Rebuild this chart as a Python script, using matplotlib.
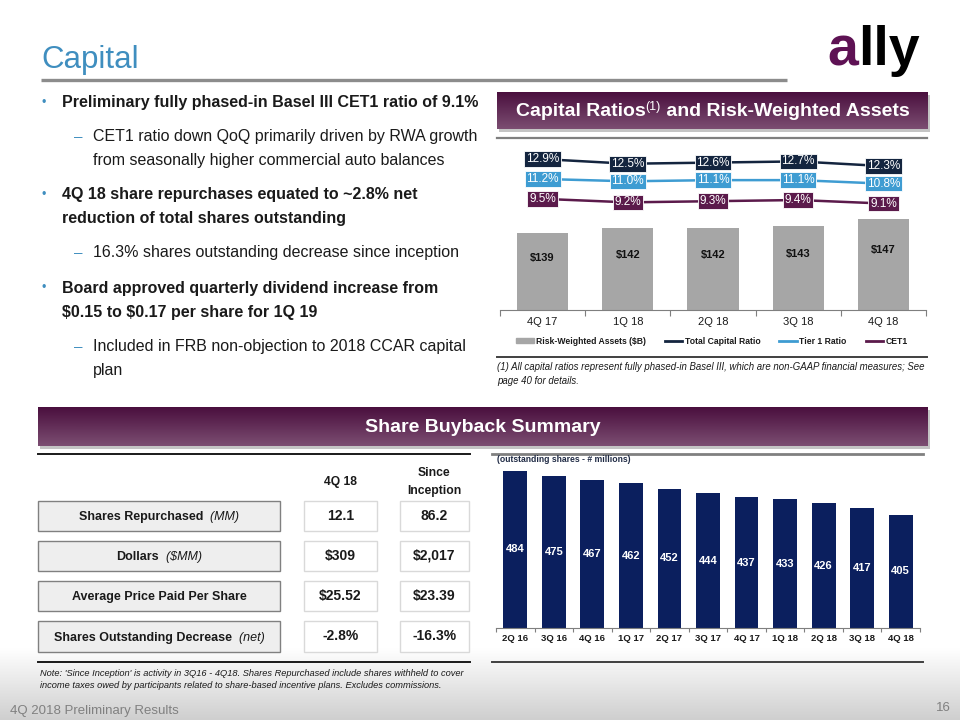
import matplotlib
matplotlib.use('Agg')
import matplotlib.pyplot as plt
import numpy as np
from matplotlib.patches import Rectangle, Patch
from matplotlib.lines import Line2D
from matplotlib.colors import LinearSegmentedColormap

plt.rcParams['font.family'] = ['Liberation Sans', 'DejaVu Sans']
plt.rcParams['text.parse_math'] = False

W, H = 960, 720

# ---------------- data ----------------
rwa_quarters = ['4Q 17', '1Q 18', '2Q 18', '3Q 18', '4Q 18']
rwa_values = [139, 142, 142, 143, 147]
total_capital_ratio = [12.9, 12.5, 12.6, 12.7, 12.3]
tier1_ratio = [11.2, 11.0, 11.1, 11.1, 10.8]
cet1_ratio = [9.5, 9.2, 9.3, 9.4, 9.1]

share_quarters = ['2Q 16', '3Q 16', '4Q 16', '1Q 17', '2Q 17', '3Q 17',
                  '4Q 17', '1Q 18', '2Q 18', '3Q 18', '4Q 18']
shares_outstanding = [484, 475, 467, 462, 452, 444, 437, 433, 426, 417, 405]

table_labels = ['Shares Repurchased', 'Dollars', 'Average Price Paid Per Share',
                'Shares Outstanding Decrease']
table_units = ['(MM)', '($MM)', '', '(net)']
table_4q18 = ['12.1', '$309', '$25.52', '-2.8%']
table_inception = ['86.2', '$2,017', '$23.39', '-16.3%']

bullets = [
    ('b', 'Preliminary fully phased-in Basel III CET1 ratio of 9.1%'),
    ('d', 'CET1 ratio down QoQ primarily driven by RWA growth'),
    ('c', 'from seasonally higher commercial auto balances'),
    ('b', '4Q 18 share repurchases equated to ~2.8% net'),
    ('bc', 'reduction of total shares outstanding'),
    ('d', '16.3% shares outstanding decrease since inception'),
    ('b', 'Board approved quarterly dividend increase from'),
    ('bc', '$0.15 to $0.17 per share for 1Q 19'),
    ('d', 'Included in FRB non-objection to 2018 CCAR capital'),
    ('c', 'plan'),
]
bullet_y = [103, 137, 160, 195, 218, 253, 288, 312, 347, 370]

# ---------------- colours ----------------
C_TOTAL = '#14253F'
C_TIER1 = '#3E9CD2'
C_CET1 = '#5B1A4B'
C_RWA = '#A6A6A6'
C_SHARES = '#0B1F5E'
C_BLUE = '#3F8EBF'
TXT = '#1a1a1a'

fig = plt.figure(figsize=(9.6, 7.2), dpi=100)
bg = fig.add_axes([0, 0, 1, 1])
bg.axis('off')
renderer = fig.canvas.get_renderer()

grad = np.linspace(0, 1, 200).reshape(-1, 1)
foot_cmap = LinearSegmentedColormap.from_list('f', ['#ffffff', '#cfcfcf'])
purple_cmap = LinearSegmentedColormap.from_list('p', ['#4A0F3E', '#7C4E72'])

# footer gradient
bg.imshow(grad, extent=[0, W, 720, 648], cmap=foot_cmap, aspect='auto', zorder=0)


def header(x0, x1, y0, y1):
    bg.add_patch(Rectangle((x0 + 2, y0 + 3), x1 - x0, y1 - y0, fc='#c4c4c4',
                           ec='none', zorder=1))
    bg.imshow(grad, extent=[x0, x1, y1, y0], cmap=purple_cmap, aspect='auto', zorder=2)


def rich(cx, y, pieces, ha='center', zorder=5):
    objs, widths = [], []
    for s, kw, dy in pieces:
        t = bg.text(0, y + dy, s, ha='left', va='baseline', zorder=zorder, **kw)
        objs.append(t)
        widths.append(t.get_window_extent(renderer).width)
    total = sum(widths)
    x = cx - total / 2 if ha == 'center' else cx
    for t, w in zip(objs, widths):
        t.set_x(x)
        x += w
    return objs


header(497, 928, 92, 129)
header(38, 928, 407, 446)

bg.set_xlim(0, W)
bg.set_ylim(H, 0)

# title
bg.text(41, 68, 'Capital', fontsize=22.5, color=C_BLUE, va='baseline', ha='left')
bg.plot([41, 787], [80, 80], color='#8c8c8c', lw=2.4, solid_capstyle='butt')

# logo
rich(827, 65, [('a', dict(fontsize=40, weight='bold', color='#5E1254'), 0),
               ('lly', dict(fontsize=40, weight='bold', color='#000000'), 0)], ha='left')

# bullets
for (kind, s), y in zip(bullets, bullet_y):
    if kind in ('b', 'bc'):
        if kind == 'b':
            bg.text(41, y, '•', fontsize=9, color=C_BLUE, va='center', ha='left')
        bg.text(62, y, s, fontsize=11.5, weight='bold', color=TXT, va='center', ha='left')
    else:
        if kind == 'd':
            bg.text(74, y, '–', fontsize=11, color=C_BLUE, va='center', ha='left')
        bg.text(93, y, s, fontsize=11.5, color=TXT, va='center', ha='left')

# header texts
rich(712.5, 116, [('Capital Ratios', dict(fontsize=14, weight='bold', color='white'), 0),
                  ('(1)', dict(fontsize=9, color='white'), -6),
                  (' and Risk-Weighted Assets', dict(fontsize=14, weight='bold', color='white'), 0)])
rich(483, 432.5, [('Share Buyback Summary', dict(fontsize=14, weight='bold', color='white'), 0)])

# separator lines
bg.plot([497, 927], [138, 138], color='#7f7f7f', lw=1.6)
bg.plot([497, 927], [357, 357], color='#404040', lw=1.4)
bg.plot([38, 470], [454, 454], color='#1a1a1a', lw=1.4)
bg.plot([492, 923], [454, 454], color='#808080', lw=2)
bg.plot([38, 470], [662, 662], color='#1a1a1a', lw=1.4)
bg.plot([492, 923], [662, 662], color='#404040', lw=1.4)

# footnote for capital chart
bg.text(497, 367, '(1) All capital ratios represent fully phased-in Basel III, which are non-GAAP '
        'financial measures; See', fontsize=6.95, style='italic', color=TXT, va='center')
bg.text(497, 381, 'page 40 for details.', fontsize=6.95, style='italic', color=TXT, va='center')

# table
bg.text(340, 482, '4Q 18', fontsize=8.7, weight='bold', color=TXT, ha='center', va='center')
bg.text(434, 473, 'Since', fontsize=8.7, weight='bold', color=TXT, ha='center', va='center')
bg.text(434, 491, 'Inception', fontsize=8.7, weight='bold', color=TXT, ha='center', va='center')
row_y = [(501, 531), (541, 571), (581, 611), (621, 652)]
for (y0, y1), lab, unit, v1, v2 in zip(row_y, table_labels, table_units, table_4q18, table_inception):
    bg.add_patch(Rectangle((38, y0), 242, y1 - y0, fc='#eeeeee', ec='#808080', lw=1, zorder=3))
    bg.add_patch(Rectangle((304, y0), 73, y1 - y0, fc='white', ec='#d9d9d9', lw=1, zorder=3))
    bg.add_patch(Rectangle((400, y0), 69, y1 - y0, fc='white', ec='#d9d9d9', lw=1, zorder=3))
    yc = (y0 + y1) / 2
    pieces = [(lab, dict(fontsize=9, weight='bold', color=TXT), 0)]
    if unit:
        pieces.append(('  ' + unit, dict(fontsize=9, style='italic', color=TXT), 0))
    rich(159, yc + 4.4, pieces)
    bg.text(340.5, yc, v1, fontsize=10, weight='bold', color=TXT, ha='center', va='center', zorder=5)
    bg.text(434.5, yc, v2, fontsize=10, weight='bold', color=TXT, ha='center', va='center', zorder=5)

bg.text(40, 673, "Note: 'Since Inception' is activity in 3Q16 - 4Q18. Shares Repurchased include "
        "shares withheld to cover", fontsize=6.7, style='italic', color=TXT, va='center')
bg.text(40, 686, 'income taxes owed by participants related to share-based incentive plans. '
        'Excludes commissions.', fontsize=6.7, style='italic', color=TXT, va='center')

# footer
bg.text(10, 711, '4Q 2018 Preliminary Results', fontsize=9.5, color='#808080', va='center')
bg.text(951, 708, '16', fontsize=9.5, color='#808080', va='center', ha='right')

# ---------------- capital ratio chart ----------------
ax1 = fig.add_axes([500 / W, 1 - 310 / H, 426 / W, 164 / H])
ax1.set_facecolor('none')
xr = np.arange(len(rwa_quarters))
ax1.bar(xr, rwa_values, width=0.6, color=C_RWA, zorder=2)
ylo = 95
ax1.set_ylim(ylo, ylo + 164 / 1.75)
ax1.set_xlim(-0.5, len(rwa_quarters) - 0.5)
for i, v in enumerate(rwa_values):
    ax1.text(i, (v + ylo) / 2 + 8, f'${v}', ha='center', va='center', fontsize=8,
             weight='bold', color='#111111', zorder=3)
for s in ['top', 'left', 'right']:
    ax1.spines[s].set_visible(False)
ax1.spines['bottom'].set_color('#7f7f7f')
ax1.set_yticks([])
ax1.set_xticks(np.arange(-0.5, len(rwa_quarters), 1))
ax1.set_xticklabels([])
ax1.set_xticks(xr, minor=True)
ax1.set_xticklabels(rwa_quarters, minor=True, fontsize=8, color=TXT)
ax1.tick_params(axis='x', which='major', length=4, color='#7f7f7f')
ax1.tick_params(axis='x', which='minor', length=0, pad=5)

ax2 = ax1.twinx()
ax2.set_ylim(0, 164 / 11.7)
ax2.set_xlim(-0.5, len(rwa_quarters) - 0.5)
ax2.axis('off')
for vals, col in [(total_capital_ratio, C_TOTAL), (tier1_ratio, C_TIER1), (cet1_ratio, C_CET1)]:
    ax2.plot(xr, vals, color=col, lw=1.8, zorder=3)
    for i, v in enumerate(vals):
        ax2.text(i, v, f'{v:.1f}%', ha='center', va='center', fontsize=8.5, color='white',
                 zorder=4, bbox=dict(boxstyle='square,pad=0.15', fc=col, ec='white', lw=0.6))

handles = [Patch(color=C_RWA), Line2D([], [], color=C_TOTAL, lw=2),
           Line2D([], [], color=C_TIER1, lw=2), Line2D([], [], color=C_CET1, lw=2)]
labels = ['Risk-Weighted Assets ($B)', 'Total Capital Ratio', 'Tier 1 Ratio', 'CET1']
fig.legend(handles, labels, loc='center', bbox_to_anchor=(712 / W, 1 - 341 / H),
           bbox_transform=fig.transFigure, ncol=4, frameon=False,
           prop={'weight': 'bold', 'size': 6.2}, handlelength=2.0, handleheight=0.6,
           handletextpad=0.3, columnspacing=2.2, labelcolor=TXT)

# ---------------- shares outstanding chart ----------------
bg.text(497, 460, '(outstanding shares - # millions)', fontsize=6.2, weight='bold',
        color='#1F2A44', va='center')
ax3 = fig.add_axes([496 / W, 1 - 628 / H, 424 / W, 167 / H])
ax3.set_facecolor('none')
xs = np.arange(len(share_quarters))
ax3.bar(xs, shares_outstanding, width=0.62, color=C_SHARES, zorder=2)
slo = 202
ax3.set_ylim(slo, slo + 167 / 0.557)
ax3.set_xlim(-0.5, len(share_quarters) - 0.5)
for i, v in enumerate(shares_outstanding):
    ax3.text(i, (v + slo) / 2, str(v), ha='center', va='center', fontsize=8,
             weight='bold', color='white', zorder=3)
for s in ['top', 'left', 'right']:
    ax3.spines[s].set_visible(False)
ax3.spines['bottom'].set_color('#7f7f7f')
ax3.set_yticks([])
ax3.set_xticks(np.arange(-0.5, len(share_quarters), 1))
ax3.set_xticklabels([])
ax3.set_xticks(xs, minor=True)
ax3.set_xticklabels(share_quarters, minor=True, fontsize=6.8, weight='bold', color=TXT)
ax3.tick_params(axis='x', which='major', length=3, color='#7f7f7f')
ax3.tick_params(axis='x', which='minor', length=0, pad=4)

fig.savefig('out.png', dpi=100)
